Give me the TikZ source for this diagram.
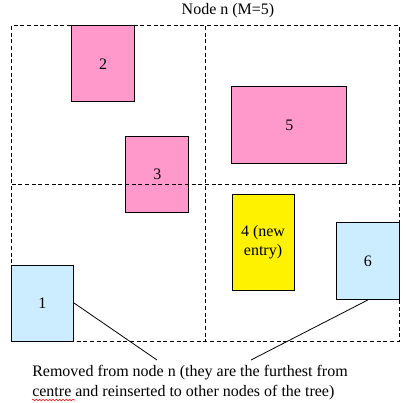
\documentclass[tikz,border=0pt]{standalone}
\usepackage{fontspec}
\setmainfont{Liberation Serif}
\usetikzlibrary{decorations.pathmorphing}
\definecolor{rosa}{HTML}{FF99CC}
\definecolor{hellblau}{HTML}{CCECFF}
\begin{document}
\begin{tikzpicture}[x=0.75pt,y=-0.75pt,
	box/.style={draw,line width=0.75pt,inner sep=0pt,align=center,
		font=\fontsize{12}{13.8}\selectfont},
	grid/.style={line width=0.75pt,dash pattern=on 3pt off 2pt}]
	\useasboundingbox (0,0) rectangle (407,403);
	\node [font=\fontsize{12}{14}\selectfont] (title) at (228,11) {Node n (M=5)};
	
	% entries of node n
	\node [box,fill=rosa,minimum width=47.25pt,minimum height=57pt] (b2) at (103,64) {2};
	\node [box,fill=rosa,minimum width=46.9pt,minimum height=57pt] (b3) at (157.25,174) {3};
	\node [box,fill=rosa,minimum width=85.9pt,minimum height=57pt] (b5) at (289.25,125) {5};
	\node [box,fill=yellow,minimum width=46.5pt,minimum height=72pt] (b4) at (263,242) {4 (new\\entry)};
	\node [box,fill=hellblau,minimum width=47.6pt,minimum height=57.4pt] (b6) at (367.75,261.25) {6};
	\node [box,fill=hellblau,minimum width=46.5pt,minimum height=57pt] (b1) at (42.5,303) {1};
	
	% quadrants
	\draw [grid] (11.5,26) rectangle (399.5,341);
	\draw [grid] (205.5,26) -- (205.5,341);
	\draw [grid] (11.5,184) -- (399.5,184);
	
	\node [anchor=north west,inner sep=0pt,align=left,font=\fontsize{12}{15}\selectfont] (note) at (32,365)
		{Removed from node n (they are the furthest from\\centre and reinserted to other nodes of the tree)};
	\draw [red,decorate,decoration={snake,amplitude=0.6pt,segment length=2.5pt}] (32,400) -- (75,400);
	
	\coordinate (r1) at (157,360);
	\coordinate (r6) at (251,360);
	\draw [line width=0.6pt] (b1.east) -- (r1);
	\draw [line width=0.6pt] (b6.south) -- (r6);
\end{tikzpicture}
\end{document}
